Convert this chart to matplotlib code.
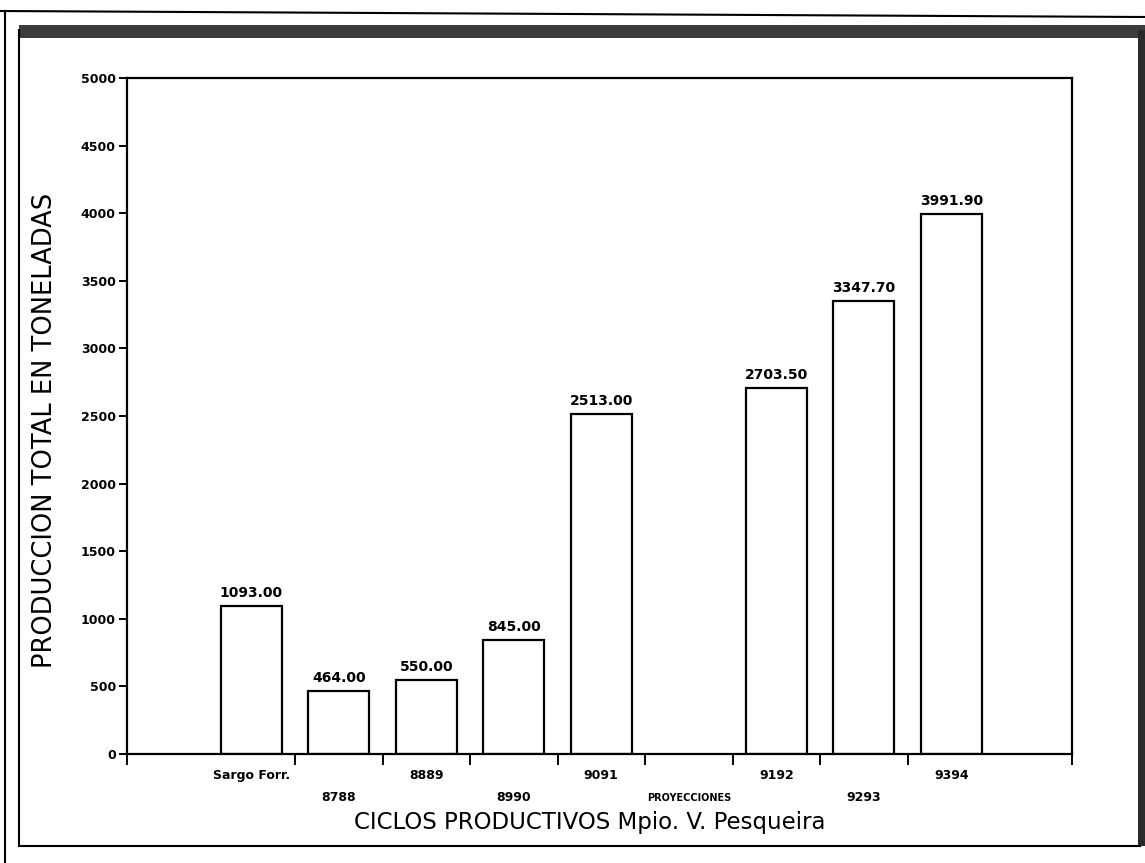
import matplotlib

matplotlib.use("Agg")
import matplotlib.pyplot as plt
import matplotlib.transforms as mtransforms
import numpy as np
from matplotlib.lines import Line2D
from matplotlib.patches import Rectangle

# === Data ===
categories = ["Sargo Forr.", "8788", "8889", "8990", "9091",
              "PROYECCIONES", "9192", "9293", "9394"]
production = [1093.00, 464.00, 550.00, 845.00, 2513.00,
              np.nan, 2703.50, 3347.70, 3991.90]
y_ticks = [0, 500, 1000, 1500, 2000, 2500, 3000, 3500, 4000, 4500, 5000]

x_label = "CICLOS PRODUCTIVOS Mpio. V. Pesqueira"
y_label = "PRODUCCION TOTAL EN TONELADAS"

# === Figure ===
fig = plt.figure(figsize=(11.45, 8.63), dpi=100)
ax = fig.add_axes([127 / 1145, 109 / 863, 945 / 1145, 676 / 863])

x = np.arange(len(categories))
vals = np.array(production, dtype=float)
has_bar = ~np.isnan(vals)

ax.bar(x[has_bar], vals[has_bar], width=0.7, facecolor="white",
       edgecolor="black", linewidth=1.6)
for xi, v in zip(x[has_bar], vals[has_bar]):
    ax.text(xi, v + 45, f"{v:.2f}", ha="center", va="bottom",
            fontsize=10, fontweight="bold")

ax.set_xlim(-1.42, 9.38)
ax.set_ylim(0, 5000)

# tick marks on category boundaries plus both axis ends
ax.set_xticks(list(np.arange(0.5, len(categories) - 1, 1.0)) + [-1.42, 9.38])
ax.set_xticklabels([])
ax.tick_params(axis="x", direction="out", length=8, width=1.4)

ax.set_yticks(y_ticks)
ax.set_yticklabels([str(t) for t in y_ticks], fontsize=9, fontweight="bold")
ax.tick_params(axis="y", direction="out", length=6, width=1.4, pad=2)

for sp in ax.spines.values():
    sp.set_linewidth(1.6)

# staggered category labels under the axis
trans = mtransforms.blended_transform_factory(ax.transData, ax.transAxes)
for i, cat in enumerate(categories):
    y_off = -0.032 if i % 2 == 0 else -0.065
    size = 7 if cat == "PROYECCIONES" else 9
    ax.text(x[i], y_off, cat, transform=trans, ha="center", va="center",
            fontsize=size, fontweight="bold")

fig.text(590 / 1145, 1 - 822 / 863, x_label, ha="center", va="center",
         fontsize=16.5)
fig.text(45 / 1145, 1 - 430 / 863, y_label, ha="center", va="center",
         fontsize=18.5, rotation=90)

# === Page frame (scanned border) ===
W, H = 1145.0, 863.0


def fline(x0, y0, x1, y1, lw, color="black"):
    fig.add_artist(Line2D([x0 / W, x1 / W], [1 - y0 / H, 1 - y1 / H],
                          transform=fig.transFigure, color=color, lw=lw))


fline(0, 11, 1145, 17, 1.5)          # outer top line
fline(5, 11, 5, 863, 1.5)            # outer left line
fline(19, 30, 19, 846, 1.5)          # inner left line
fline(19, 846, 1140, 846, 1.5)       # inner bottom line
fig.add_artist(Rectangle((19 / W, 1 - 38 / H), (1145 - 19) / W, 13 / H,
                         transform=fig.transFigure, facecolor="#3c3c3c",
                         edgecolor="none"))
fig.add_artist(Rectangle((1138 / W, 1 - 846 / H), 7 / W, (846 - 30) / H,
                         transform=fig.transFigure, facecolor="#2a2a2a",
                         edgecolor="none"))

fig.savefig("out.png", dpi=100)
